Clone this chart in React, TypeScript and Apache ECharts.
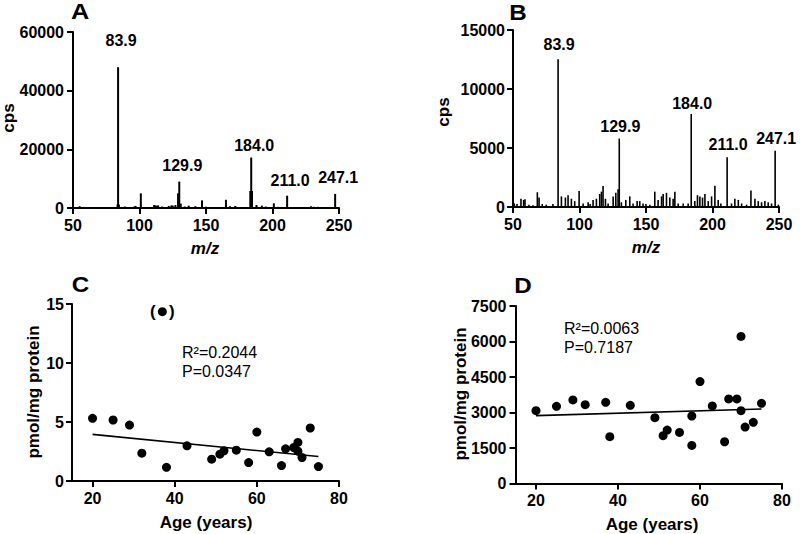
import React, { useEffect, useRef } from "react";
import * as echarts from "echarts";

// ---------- Panel A: MS/MS spectrum ----------
const mzA = [55, 60, 67, 68, 83.5, 83.9, 84.5, 89, 96, 97, 101, 111, 112, 113, 114, 117, 122, 124, 125, 127, 129, 129.9, 131, 134, 137, 142, 147, 150, 155, 160, 165, 168, 172, 176, 183.3, 184.0, 184.6, 188, 192, 195, 201, 204, 211.0, 221, 229, 231, 234, 237, 240, 244, 247.1];
const cpsA = [600, 150, 250, 200, 1200, 48000, 1200, 500, 500, 700, 5000, 1000, 900, 700, 900, 500, 700, 900, 800, 1000, 5000, 9000, 1500, 500, 800, 600, 2600, 400, 300, 300, 2800, 600, 700, 300, 5800, 17200, 5800, 1000, 800, 500, 1600, 400, 4200, 300, 600, 400, 400, 300, 300, 300, 4800];
const peakMzA = [83.9, 129.9, 184.0, 211.0, 247.1];
const peakTextA = ["83.9", "129.9", "184.0", "211.0", "247.1"];
const peakGapA = [19, 8, 4, 7, 8];

// ---------- Panel B: MS/MS spectrum ----------
const mzB = [51, 53, 56, 58, 59, 62, 65, 68.3, 69.6, 72, 75, 80, 83.9, 86.4, 89.4, 91.4, 93.9, 96.4, 99.7, 102.7, 106.5, 108, 110.2, 112.7, 115.2, 116.5, 117.7, 119.5, 121.5, 125.3, 127.3, 129.0, 129.9, 131.5, 134.8, 137.8, 140.3, 143.3, 145.3, 147.8, 150, 152.9, 156.6, 159.1, 161.7, 162.9, 165.4, 167.9, 170.4, 171.7, 174.2, 178, 181.7, 184.0, 186.7, 188.7, 190.5, 192.5, 194.3, 196.8, 199.3, 201.8, 204.3, 206.3, 211.0, 214.3, 216.8, 219.4, 221.9, 225.6, 228.9, 231.9, 234.4, 236.9, 239.4, 241.9, 244.4, 247.1, 249.5];
const cpsB = [300, 250, 700, 600, 650, 200, 150, 1250, 800, 250, 200, 250, 12520, 900, 800, 1000, 700, 500, 1350, 300, 400, 250, 600, 700, 1100, 1300, 1780, 700, 300, 900, 1200, 1500, 5800, 400, 600, 900, 300, 500, 500, 300, 250, 200, 1300, 600, 900, 1100, 1200, 800, 700, 1300, 300, 300, 300, 7880, 500, 1000, 900, 800, 1100, 500, 900, 1800, 600, 300, 4210, 300, 700, 600, 300, 200, 1400, 700, 500, 400, 500, 400, 300, 4770, 200];
const peakMzB = [83.9, 129.9, 184.0, 211.0, 247.1];
const peakTextB = ["83.9", "129.9", "184.0", "211.0", "247.1"];
const peakGapB = [7, 4, 3, 5, 4];

// ---------- Panel C ----------
const agesC = [20, 25, 29, 32, 38, 43, 49, 51, 52, 55, 58, 60, 63, 66, 67, 69, 70, 70, 71, 73, 75];
const valuesC = [5.31, 5.17, 4.74, 2.36, 1.16, 2.98, 1.85, 2.27, 2.56, 2.61, 1.56, 4.15, 2.47, 1.31, 2.73, 2.84, 3.27, 2.53, 1.99, 4.49, 1.22];
const outlierAgeC = [37];
const outlierValueC = [14.35];
const fitAgesC = [20, 75];
const fitValuesC = [3.95, 2.07];

// ---------- Panel D ----------
const agesD = [20, 25, 29, 32, 37, 38, 43, 49, 51, 52, 55, 58, 58, 60, 63, 66, 67, 69, 70, 70, 71, 73, 75];
const valuesD = [3078, 3262, 3530, 3332, 3431, 1977, 3304, 2782, 2019, 2259, 2160, 2852, 1610, 4307, 3276, 1765, 3572, 3572, 3078, 6213, 2386, 2584, 3389];
const fitAgesD = [20, 75];
const fitValuesD = [2866, 3149];

const ageTicks = [20, 40, 60, 80];

const FONT = "Liberation Sans, Arial, Helvetica, sans-serif";

function spectrumData(mz: number[], cps: number[], peaks: number[], texts: string[], gaps: number[], dx: number) {
  return mz.map((m, i) => {
    const k = peaks.indexOf(m);
    if (k < 0) return [m, cps[i]];
    return {
      value: [m, cps[i]],
      label: {
        show: true,
        position: "top",
        distance: gaps[k],
        offset: [dx, 0],
        formatter: texts[k],
        fontFamily: FONT,
        fontSize: 16,
        fontWeight: "bold",
        color: "#000",
      },
    };
  });
}

export default function App() {
  const ref = useRef<HTMLDivElement>(null);

  useEffect(() => {
    if (!ref.current) return;
    const chart = echarts.init(ref.current, undefined, { renderer: "svg" });

    const axisLine = { show: true, onZero: false, lineStyle: { color: "#000", width: 2 } };
    const axisTick = { show: true, length: 6, lineStyle: { color: "#000", width: 2 } };
    const axisLabel = (margin: number) => ({
      fontFamily: FONT,
      fontSize: 16,
      fontWeight: "bold" as const,
      color: "#000",
      margin,
      formatter: (v: number) => String(v),
    });

    const title = (text: string, x: number, y: number, opts: any = {}) => ({
      type: "text",
      x,
      y,
      rotation: opts.rotation || 0,
      scaleX: opts.scaleX || 1,
      style: {
        text,
        fill: "#000",
        font: `${opts.italic ? "italic " : ""}${opts.weight || "bold"} ${opts.size || 17}px ${FONT}`,
        textAlign: opts.align || "center",
        textVerticalAlign: "middle",
      },
    });

    const dot = { color: "#000", opacity: 1 };

    const option: any = {
      animation: false,
      grid: [
        { left: 73, top: 32, width: 266, height: 176 },
        { left: 513, top: 30, width: 266, height: 177 },
        { left: 72, top: 304, width: 267, height: 177 },
        { left: 515.5, top: 306, width: 266.5, height: 177.5 },
      ],
      xAxis: [
        { type: "value", gridIndex: 0, min: 50, max: 250, interval: 50, axisLine, axisTick, axisLabel: axisLabel(9), splitLine: { show: false } },
        { type: "value", gridIndex: 1, min: 50, max: 250, interval: 50, axisLine, axisTick, axisLabel: axisLabel(9), splitLine: { show: false } },
        {
          type: "value", gridIndex: 2, min: 15, max: 80, axisLine,
          axisTick: { ...axisTick, customValues: ageTicks },
          axisLabel: { ...axisLabel(9), customValues: ageTicks },
          splitLine: { show: false },
        },
        {
          type: "value", gridIndex: 3, min: 15, max: 80, axisLine,
          axisTick: { ...axisTick, customValues: ageTicks },
          axisLabel: { ...axisLabel(9), customValues: ageTicks },
          splitLine: { show: false },
        },
      ],
      yAxis: [
        { type: "value", gridIndex: 0, min: 0, max: 60000, interval: 20000, axisLine, axisTick, axisLabel: axisLabel(9), splitLine: { show: false } },
        { type: "value", gridIndex: 1, min: 0, max: 15000, interval: 5000, axisLine, axisTick, axisLabel: axisLabel(8), splitLine: { show: false } },
        { type: "value", gridIndex: 2, min: 0, max: 15, interval: 5, axisLine, axisTick, axisLabel: axisLabel(8), splitLine: { show: false } },
        { type: "value", gridIndex: 3, min: 0, max: 7500, interval: 1500, axisLine, axisTick, axisLabel: axisLabel(9), splitLine: { show: false } },
      ],
      series: [
        {
          type: "bar", xAxisIndex: 0, yAxisIndex: 0, barWidth: 2,
          itemStyle: { color: "#000" },
          data: spectrumData(mzA, cpsA, peakMzA, peakTextA, peakGapA, 3),
        },
        {
          type: "bar", xAxisIndex: 1, yAxisIndex: 1, barWidth: 1.6,
          itemStyle: { color: "#000" },
          data: spectrumData(mzB, cpsB, peakMzB, peakTextB, peakGapB, 1),
        },
        {
          type: "scatter", xAxisIndex: 2, yAxisIndex: 2, symbolSize: 9,
          itemStyle: dot,
          data: agesC.map((a, i) => [a, valuesC[i]]),
        },
        {
          type: "scatter", xAxisIndex: 2, yAxisIndex: 2, symbolSize: 9,
          itemStyle: dot,
          label: {
            show: true, position: "inside", formatter: "(\u2002 )",
            fontFamily: FONT, fontSize: 17, fontWeight: "bold", color: "#000",
          },
          data: outlierAgeC.map((a, i) => [a, outlierValueC[i]]),
        },
        {
          type: "line", xAxisIndex: 2, yAxisIndex: 2, symbol: "none",
          lineStyle: { color: "#000", width: 1.6 },
          data: fitAgesC.map((a, i) => [a, fitValuesC[i]]),
        },
        {
          type: "scatter", xAxisIndex: 3, yAxisIndex: 3, symbolSize: 9,
          itemStyle: dot,
          data: agesD.map((a, i) => [a, valuesD[i]]),
        },
        {
          type: "line", xAxisIndex: 3, yAxisIndex: 3, symbol: "none",
          lineStyle: { color: "#000", width: 1.6 },
          data: fitAgesD.map((a, i) => [a, fitValuesD[i]]),
        },
      ],
      graphic: [
        title("A", 80, 12, { size: 22, scaleX: 1.15 }),
        title("B", 518, 12, { size: 22, scaleX: 1.1 }),
        title("C", 80.5, 284, { size: 22, scaleX: 1.1 }),
        title("D", 523, 285.5, { size: 22, scaleX: 1.1 }),
        title("cps", 8, 118, { rotation: Math.PI / 2 }),
        title("cps", 443, 112, { rotation: Math.PI / 2 }),
        title("m/z", 205, 248, { italic: true }),
        title("m/z", 646, 247, { italic: true }),
        title("pmol/mg protein", 33, 392, { rotation: Math.PI / 2 }),
        title("pmol/mg protein", 460, 394, { rotation: Math.PI / 2 }),
        title("Age (years)", 206, 522),
        title("Age (years)", 652, 524),
        title("R\u00B2=0.2044", 182, 352, { weight: "normal", size: 16, align: "left" }),
        title("P=0.0347", 182, 371, { weight: "normal", size: 16, align: "left" }),
        title("R\u00B2=0.0063", 564, 328, { weight: "normal", size: 16, align: "left" }),
        title("P=0.7187", 564, 347, { weight: "normal", size: 16, align: "left" }),
      ],
    };

    chart.setOption(option);
    return () => chart.dispose();
  }, []);

  return (
    <div
      ref={ref}
      style={{ position: "fixed", left: 0, top: 0, width: 800, height: 534, background: "#fff" }}
    />
  );
}
